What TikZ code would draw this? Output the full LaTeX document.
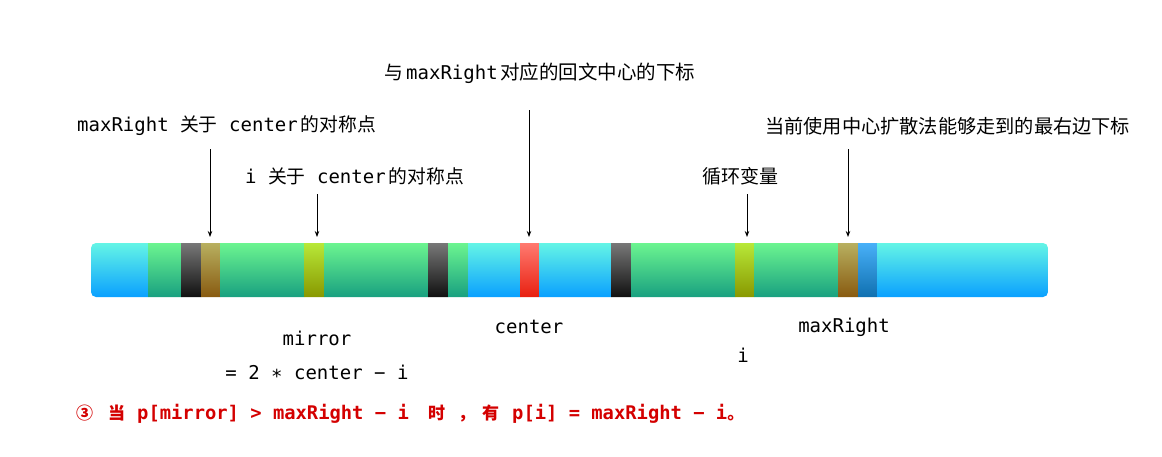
\documentclass[tikz,border=0pt]{standalone}
\usepackage{fontspec}
\setmonofont{DejaVu Sans Mono}
\newfontfamily\cjk{Noto Sans CJK SC}
\usetikzlibrary{arrows.meta}
\definecolor{cyT}{HTML}{64F5E6}\definecolor{cyB}{HTML}{0AA0FF}
\definecolor{grT}{HTML}{6CF590}\definecolor{grB}{HTML}{18A080}
\definecolor{dkT}{HTML}{787878}\definecolor{dkB}{HTML}{101010}
\definecolor{olT}{HTML}{B8B060}\definecolor{olB}{HTML}{885A10}
\definecolor{ygT}{HTML}{B8E838}\definecolor{ygB}{HTML}{889800}
\definecolor{rdT}{HTML}{FF7A70}\definecolor{rdB}{HTML}{E82010}
\definecolor{blT}{HTML}{48B0F8}\definecolor{blB}{HTML}{1070B0}
\definecolor{redtxt}{HTML}{D40000}
\newcommand{\cjs}[1]{{\cjk\fontsize{18.8}{19}\selectfont #1}}
\newcommand{\cjr}[1]{{\cjk\bfseries\fontsize{17}{17}\selectfont #1}}
\begin{document}
\begin{tikzpicture}[x=1pt,y=-1pt,
  lbl/.style={inner sep=0pt,font=\fontsize{19}{19}\selectfont\ttfamily},
  redlbl/.style={inner sep=0pt,font=\fontsize{18.8}{19}\selectfont\ttfamily\bfseries,text=redtxt},
  ptr/.style={draw=black,line width=0.9pt,-{Stealth[length=6pt,width=4.5pt]}},
  cy/.style={top color=cyT,bottom color=cyB},
  gr/.style={top color=grT,bottom color=grB},
  dk/.style={top color=dkT,bottom color=dkB},
  ol/.style={top color=olT,bottom color=olB},
  yg/.style={top color=ygT,bottom color=ygB},
  rd/.style={top color=rdT,bottom color=rdB},
  bl/.style={top color=blT,bottom color=blB}]
\useasboundingbox[fill=white] (0,0) rectangle (1162,456);
% bar
\begin{scope}
\clip[rounded corners=5pt] (91,243) rectangle (1048,297);
\foreach \a/\b/\s in {91/148/cy,148/181/gr,181/201/dk,201/220/ol,220/304/gr,304/324/yg,324/428/gr,428/448/dk,448/468/gr,468/520/cy,520/539/rd,539/611/cy,611/631/dk,631/735/gr,735/754/yg,754/838/gr,838/858/ol,858/877/bl,877/1048/cy}
  \shade[\s] (\a,243) rectangle (\b,297);
\end{scope}
% top labels
\node[lbl,anchor=west] (lc) at (384,73) {\makebox[22pt][l]{\cjs{与}}\makebox[94pt][l]{maxRight}{\cjk\fontsize{19.5}{19.5}\selectfont 对应的回文中心的下标}};
\node[lbl,anchor=west] (lm) at (77,126) {maxRight \cjs{关于} center\hspace{3pt}\cjs{的对称点}};
\node[lbl,anchor=west] (li) at (245,176) {i \cjs{关于} center\hspace{3pt}\cjs{的对称点}};
\node[lbl,anchor=center] (lv) at (740,176) {\cjk\fontsize{19}{19}\selectfont 循环变量};
\node[lbl,anchor=west] (lr) at (765,126) {\cjk\fontsize{19.2}{19.2}\selectfont 当前使用中心扩散法能够走到的最右边下标};
% arrows
\coordinate (sM) at (210,149); \coordinate (tM) at (210,237);
\coordinate (sI) at (317,194); \coordinate (tI) at (317,237);
\coordinate (sC) at (529,110); \coordinate (tC) at (529,237);
\coordinate (sV) at (747,194); \coordinate (tV) at (747,237);
\coordinate (sR) at (848,149); \coordinate (tR) at (848,237);
\draw[ptr] (sM) -- (tM);
\draw[ptr] (sI) -- (tI);
\draw[ptr] (sC) -- (tC);
\draw[ptr] (sV) -- (tV);
\draw[ptr] (sR) -- (tR);
% bottom labels
\node[lbl] (bm) at (317,338) {mirror};
\node[lbl] (bf) at (317,372) {= 2 ∗ center − i};
\node[lbl] (bc) at (529,327) {center};
\node[lbl] (bi) at (743,355) {i};
\node[lbl] (br) at (844,327) {maxRight};
% red statement
\node[redlbl,anchor=west] (st) at (76,414) {\makebox[32pt][l]{\cjr{③}}\makebox[29pt][l]{\cjr{当}}\makebox[291pt][l]{p[mirror] > maxRight − i}\makebox[30pt][l]{\cjr{时}}\makebox[24pt][l]{\cjr{，}}\makebox[30pt][l]{\cjr{有}}p[i] = maxRight − i\cjr{。}};
\end{tikzpicture}
\end{document}
